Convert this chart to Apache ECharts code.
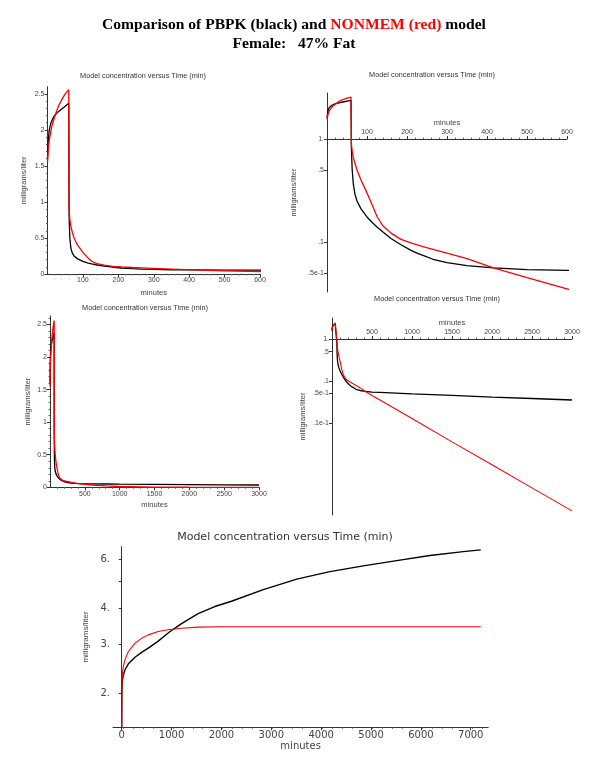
<!DOCTYPE html>
<html><head><meta charset="utf-8">
<script src="https://cdn.jsdelivr.net/npm/echarts@6/dist/echarts.min.js"></script>
<style>html,body{margin:0;padding:0;background:#fff}#c{width:600px;height:776px}</style>
</head><body><div id="c"></div><script>
// ---------- text ----------
const titleLine1A = 'Comparison of PBPK (black) and ';
const titleLine1B = 'NONMEM (red)';
const titleLine1C = ' model';
const titleLine2 = 'Female:   47% Fat';
const panelTitle = 'Model concentration versus Time (min)';
const xName = 'minutes';
const yName = 'milligrams/liter';

// ---------- blood concentration (panels 1-4) ----------
const pkTime = [0,2,5,10,15,20,30,40,50,60,61,63,66,70,75,85,100,115,125,140,160,185,210,225,240,265,300,350,416,500,600,800,1000,1500,2000,2500,3000];
const pbpkConc = [1.6,1.85,2.0,2.1,2.16,2.2,2.25,2.29,2.33,2.37,0.8,0.5,0.36,0.29,0.25,0.21,0.175,0.152,0.14,0.125,0.108,0.094,0.083,0.078,0.074,0.068,0.063,0.059,0.056,0.054,0.053,0.051,0.049,0.045,0.041,0.038,0.035];
const nonmemConc = [1.55,1.7,1.85,2.0,2.1,2.18,2.32,2.42,2.5,2.56,0.9,0.76,0.66,0.58,0.5,0.4,0.3,0.22,0.177,0.143,0.122,0.106,0.098,0.094,0.09,0.085,0.078,0.069,0.056,0.045,0.035,0.021,0.0126,0.0035,0.001,0.00028,0.000079];

// ---------- panel 5 ----------
const fatTimeBlack = [0,2,5,10,20,40,66,133,266,400,532,732,932,1032,1200,1532,1866,2200,2840,3510,4175,4845,5515,6180,6850,7200];
const fatBlack = [1.52,1.9,2.1,2.2,2.27,2.35,2.43,2.55,2.69,2.80,2.90,3.07,3.28,3.38,3.54,3.84,4.07,4.25,4.67,5.09,5.41,5.67,5.92,6.17,6.37,6.46];
const fatTimeRed = [0,2,5,10,20,46,66,133,266,400,532,732,932,1200,1532,2000,3000,4000,5000,6000,7200];
const fatRed = [1.52,2.0,2.2,2.3,2.42,2.56,2.64,2.82,3.02,3.14,3.23,3.32,3.37,3.41,3.44,3.45,3.45,3.45,3.45,3.45,3.45];

// ---------- tick labels ----------
const linYTicks = [0,0.5,1,1.5,2,2.5];
const x600Ticks = [100,200,300,400,500,600];
const x3000Ticks = [500,1000,1500,2000,2500,3000];
const x7000Ticks = [0,1000,2000,3000,4000,5000,6000,7000];
const logTicks2 = [1,0.5,0.1,0.05];
const logLabels2 = ['1.','.5','.1','.5e-1'];
const logTicks4 = [1,0.5,0.1,0.05,0.01];
const logLabels4 = ['1.','.5','.1','.5e-1','.1e-1'];
const logTicks5 = [2,3,4,5,6];
const logLabels5 = ['2.','3.','4.','','6.'];

// ---------- build ----------
const L10 = v => Math.log10(v);
const pairs = (t, v, f) => t.map((x, i) => [x, f ? f(v[i]) : v[i]]);
const lookup = (ticks, labels) => (val) => {
  for (let i = 0; i < ticks.length; i++) if (Math.abs(L10(ticks[i]) - val) < 1e-6) return labels[i];
  return '';
};
const plain = v => String(v);
const SANS = 'Liberation Sans, Arial, sans-serif';
const lab = {fontFamily: SANS, fontSize: 7, color: '#444'};
const nameStyle = {fontFamily: SANS, fontSize: 7.5, color: '#444'};
const lineSt = {lineStyle: {color: '#333', width: 1}};
const BIG = 'DejaVu Sans, sans-serif';
const labBig = {fontFamily: BIG, fontSize: 10, color: '#444'};
const minor = {show: true, splitNumber: 5, length: 1.5, lineStyle: {color: '#666'}};

function xLin(gi, max, interval, ticks, gap, extra) {
  return Object.assign({
    gridIndex: gi, type: 'value', min: 0, max: max, interval: interval,
    axisLine: Object.assign({onZero: false}, lineSt),
    axisTick: {show: true, length: 3, customValues: ticks, lineStyle: {color: '#333'}},
    minorTick: minor,
    axisLabel: Object.assign({customValues: ticks, margin: 3, formatter: plain}, lab),
    splitLine: {show: false},
    name: xName, nameLocation: 'middle', nameGap: gap, nameTextStyle: nameStyle
  }, extra || {});
}
function yLin(gi, max, gap) {
  return {
    gridIndex: gi, type: 'value', min: 0, max: max, interval: 0.5,
    axisLine: Object.assign({show: true, onZero: true}, lineSt),
    axisTick: {show: true, length: 3, customValues: linYTicks, lineStyle: {color: '#333'}},
    minorTick: minor,
    axisLabel: Object.assign({customValues: linYTicks, margin: 3}, lab),
    splitLine: {show: false},
    name: yName, nameLocation: 'middle', nameRotate: 90, nameGap: gap, nameTextStyle: nameStyle
  };
}
function yLog(gi, minV, maxV, ticks, labels, gap, style, nstyle) {
  return {
    gridIndex: gi, type: 'value', min: L10(minV), max: L10(maxV),
    axisLine: Object.assign({show: true, onZero: true}, lineSt),
    axisTick: {show: true, length: 3, customValues: ticks.map(L10), lineStyle: {color: '#333'}},
    axisLabel: Object.assign({customValues: ticks.map(L10), margin: 3, formatter: lookup(ticks, labels)}, style),
    splitLine: {show: false},
    name: yName, nameLocation: 'middle', nameRotate: 90, nameGap: gap, nameTextStyle: nstyle
  };
}
const line = (gi, data, color, w) => ({
  type: 'line', xAxisIndex: gi, yAxisIndex: gi, data: data, showSymbol: false, symbol: 'none',
  lineStyle: {color: color, width: w}, itemStyle: {color: color}, animation: false, silent: true
});
const BLACK = '#000000', RED = '#ff0000';
const grids = [
  {left: 47.5, top: 86.7, width: 212.5, height: 187.3},
  {left: 327, top: 93, width: 240, height: 199},
  {left: 50, top: 316, width: 209, height: 171.3},
  {left: 332, top: 318, width: 240, height: 197},
  {left: 113, top: 546.7, width: 375.2, height: 180.6}
];
const SERIF = 'Liberation Serif, Times New Roman, serif';

const option = {
  animation: false,
  backgroundColor: '#ffffff',
  grid: grids,
  xAxis: [
    xLin(0, 600, 100, x600Ticks, 15),
    xLin(1, 600, 100, x600Ticks, 12, {position: 'top'}),
    xLin(2, 3000, 500, x3000Ticks, 14),
    xLin(3, 3000, 500, x3000Ticks, 12, {position: 'top'}),
    xLin(4, 7350, 1000, x7000Ticks, 14, {min: -175, axisLabel: Object.assign({customValues: x7000Ticks, margin: 3, formatter: plain}, labBig), nameTextStyle: {fontFamily: BIG, fontSize: 10, color: '#444'}})
  ],
  yAxis: [
    yLin(0, 2.6, 20),
    yLog(1, 0.0327, 2.8, logTicks2, logLabels2, 29, lab, nameStyle),
    yLin(2, 2.63, 18),
    yLog(3, 6.3e-5, 3.17, logTicks4, logLabels4, 25, lab, nameStyle),
    yLog(4, 1.52, 6.63, logTicks5, logLabels5, 10, labBig, {fontFamily: SANS, fontSize: 8, color: '#444'})
  ],
  series: [
    line(0, pairs(pkTime, pbpkConc), BLACK, 1.3),
    line(0, pairs(pkTime, nonmemConc), RED, 1.3),
    line(1, pairs(pkTime, pbpkConc, L10), BLACK, 1.3),
    line(1, pairs(pkTime, nonmemConc, L10), RED, 1.3),
    line(2, pairs(pkTime, pbpkConc), BLACK, 1.3),
    line(2, pairs(pkTime, nonmemConc), RED, 1.3),
    line(3, pairs(pkTime, pbpkConc, L10), BLACK, 1.3),
    line(3, pairs(pkTime, nonmemConc, L10), RED, 1.1),
    line(4, pairs(fatTimeBlack, fatBlack, L10), BLACK, 1.4),
    line(4, pairs(fatTimeRed, fatRed, L10), RED, 1.1)
  ],
  graphic: [
    {type: 'text', x: 294, y: 25, style: {
      text: '{a|' + titleLine1A + '}{b|' + titleLine1B + '}{a|' + titleLine1C + '}',
      align: 'center', verticalAlign: 'middle',
      rich: {
        a: {fontFamily: SERIF, fontWeight: 'bold', fontSize: 15.6, fill: '#000'},
        b: {fontFamily: SERIF, fontWeight: 'bold', fontSize: 15.6, fill: '#ff0000'}
      }
    }},
    {type: 'text', x: 294, y: 44, style: {text: titleLine2, align: 'center', verticalAlign: 'middle',
      font: 'bold 15.6px "Liberation Serif", "Times New Roman", serif', fill: '#000'}},
    {type: 'text', x: 143, y: 76, style: {text: panelTitle, align: 'center', verticalAlign: 'middle', font: '7.3px "Liberation Sans", Arial, sans-serif', fill: '#333'}},
    {type: 'text', x: 432, y: 75, style: {text: panelTitle, align: 'center', verticalAlign: 'middle', font: '7.3px "Liberation Sans", Arial, sans-serif', fill: '#333'}},
    {type: 'text', x: 145, y: 308, style: {text: panelTitle, align: 'center', verticalAlign: 'middle', font: '7.3px "Liberation Sans", Arial, sans-serif', fill: '#333'}},
    {type: 'text', x: 437, y: 299, style: {text: panelTitle, align: 'center', verticalAlign: 'middle', font: '7.3px "Liberation Sans", Arial, sans-serif', fill: '#333'}},
    {type: 'text', x: 285, y: 537, style: {text: panelTitle, align: 'center', verticalAlign: 'middle', font: '11px "DejaVu Sans", sans-serif', fill: '#333'}}
  ]
};
const chart = echarts.init(document.getElementById('c'), null, {renderer: 'canvas'});
chart.setOption(option);
// place the log panels' time axes where concentration = 1 (log10 = 0), using the library's own scale
const y1 = chart.convertToPixel({yAxisIndex: 1}, 0);
const y3 = chart.convertToPixel({yAxisIndex: 3}, 0);
chart.setOption({xAxis: [{}, {offset: -(y1 - grids[1].top)}, {}, {offset: -(y3 - grids[3].top)}, {}]});
</script></body></html>
